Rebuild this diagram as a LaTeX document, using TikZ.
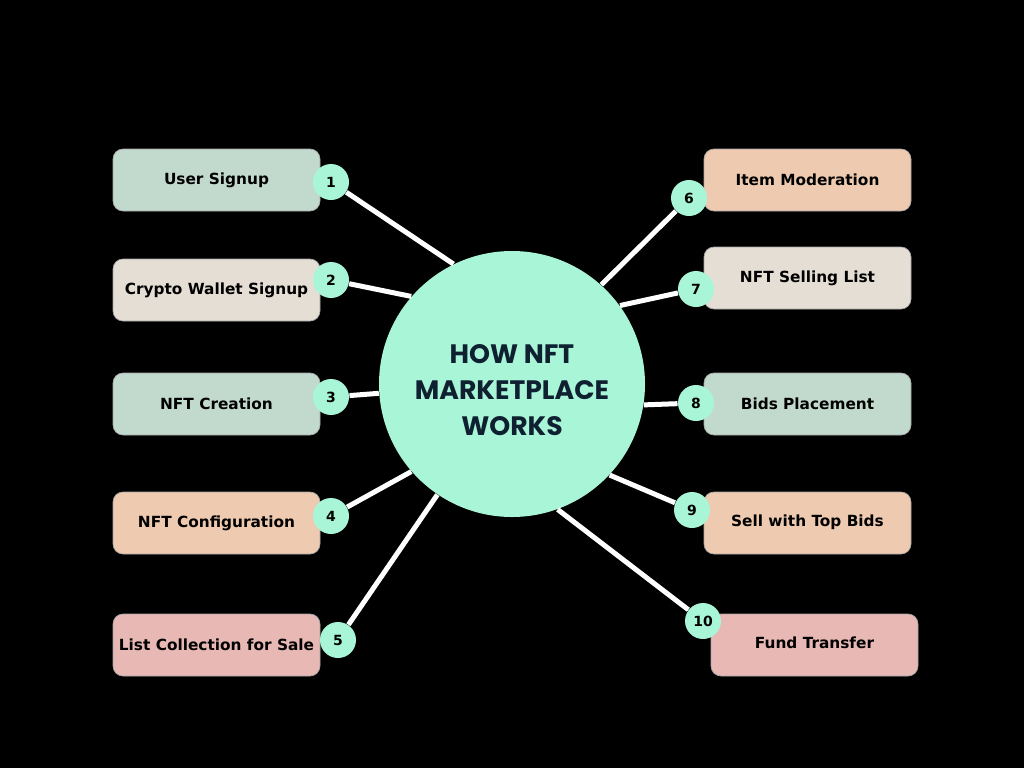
\documentclass[tikz,border=0pt]{standalone}
\usepackage{fontspec}
\setmainfont{DejaVu Sans}
\newfontfamily\titlefont{Poppins}

\definecolor{mint}{RGB}{168,245,215}
\definecolor{sage}{RGB}{194,218,206}
\definecolor{linen}{RGB}{229,222,212}
\definecolor{peach}{RGB}{238,202,176}
\definecolor{rose}{RGB}{231,184,180}
\definecolor{navy}{RGB}{15,33,48}

\tikzset{every picture/.style={line width=0.75pt}}
\tikzset{
  stepbox/.style={rounded corners=7.5pt, minimum width=155.25pt, minimum height=46.5pt, inner sep=0pt, draw=black!35, line width=0.5pt, font=\bfseries\fontsize{11.5}{13}\selectfont},
  numdot/.style={circle, fill=mint, minimum size=27pt, inner sep=0pt, font=\bfseries\fontsize{10.5}{12}\selectfont},
  link/.style={draw=white, line width=3.75pt}
}

\begin{document}
\begin{tikzpicture}[x=0.75pt,y=0.75pt,yscale=-1,xscale=1]
%background
\fill[black] (0,0) rectangle (1024,768);

%Shape: Circle [id:hub]
\node [circle, fill=mint, minimum size=199.5pt, inner sep=0pt] (hub) at (512,384) {};
% Text Node
\node [text=navy, align=center, font=\titlefont\bfseries\fontsize{20}{27}\selectfont] (title) at (512,390) {HOW NFT\\MARKETPLACE\\WORKS};

% Left boxes
\node [stepbox, fill=sage] (signup) at (216.5,180) {User Signup};
\node [stepbox, fill=linen] (wallet) at (216.5,290) {\raisebox{-3pt}{Crypto Wallet Signup}};
\node [stepbox, fill=sage] (creation) at (216.5,404) {NFT Creation};
\node [stepbox, fill=peach] (config) at (216.5,523) {NFT Configuration};
\node [stepbox, fill=rose] (listing) at (216.5,645) {List Collection for Sale};

% Right boxes
\node [stepbox, fill=peach] (moderation) at (807.5,180) {Item Moderation};
\node [stepbox, fill=linen] (selling) at (807.5,278) {NFT Selling List};
\node [stepbox, fill=sage] (bids) at (807.5,404) {Bids Placement};
\node [stepbox, fill=peach] (topbids) at (807.5,523) {\raisebox{3pt}{Sell with Top Bids}};
\node [stepbox, fill=rose] (transfer) at (814.5,645) {\raisebox{3pt}{Fund Transfer}};

% Number dots
\node [numdot] (n1) at (331,182) {1};
\node [numdot] (n2) at (331,280) {2};
\node [numdot] (n3) at (331,397) {3};
\node [numdot] (n4) at (331,516) {4};
\node [numdot] (n5) at (338,640) {5};
\node [numdot] (n6) at (689,198) {6};
\node [numdot] (n7) at (696,289) {7};
\node [numdot] (n8) at (696,403) {8};
\node [numdot] (n9) at (692,510) {9};
\node [numdot] (n10) at (703,621) {10};

%Straight Lines
\draw [link] (n1) -- (hub.116);
\draw [link] (n2) -- (hub.139);
\draw [link] (n3) -- (hub.184);
\draw [link] (n4) -- (hub.221);
\draw [link] (n5) -- (hub.236);
\draw [link] (n6) -- (hub.48);
\draw [link] (n7) -- (hub.36);
\draw [link] (n8) -- (hub.351);
\draw [link] (n9) -- (hub.317);
\draw [link] (n10) -- (hub.290);

\end{tikzpicture}
\end{document}
